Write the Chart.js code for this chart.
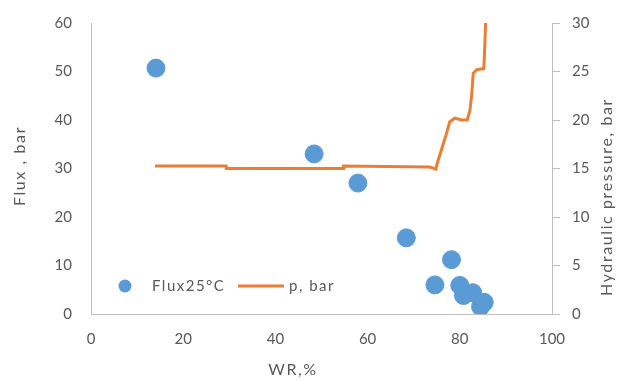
<!DOCTYPE html>
<html>
<head>
<meta charset="utf-8">
<script src="https://cdn.jsdelivr.net/npm/chart.js@4"></script>
<style>
    html, body { margin: 0; padding: 0; background: #fff; }
    #wrap { width: 617px; height: 381px; }
</style>
</head>
<body>
<div id="wrap"><canvas id="chart" width="617" height="381"></canvas></div>
<script>
// flux measurements (left axis)
const fluxWR = [14.1, 48.4, 57.9, 68.4, 74.6, 78.2, 80.0, 80.8, 82.8, 84.5, 85.3];
const fluxValues = [50.7, 33.0, 27.0, 15.7, 6.0, 11.2, 5.9, 3.8, 4.4, 1.5, 2.4];

// hydraulic pressure curve (right axis)
const pressWR = [13.9, 29.3, 29.4, 54.7, 54.8, 73.5, 74.8, 75.2, 76.0, 77.1, 77.8, 78.9, 80.4, 81.6, 82.2, 82.6, 82.9, 83.7, 85.2, 85.4, 85.6];
const pressValues = [15.25, 15.25, 15.0, 15.0, 15.25, 15.15, 14.95, 15.7, 16.9, 18.6, 19.8, 20.2, 20.0, 20.0, 21.0, 22.7, 24.8, 25.2, 25.3, 27.4, 30.0];

const xTicks = [0, 20, 40, 60, 80, 100];

const blue = '#5b9bd5';
const orange = '#ed7d31';
const grey = '#595959';
const axisGrey = '#bfbfbf';
const fontFamily = 'Lato, "Open Sans", sans-serif';

// legend inside the plot + the three axis titles (drawn by hand for letter spacing)
const textPlugin = {
    id: 'textBits',
    afterDraw(chart) {
        const ctx = chart.ctx;
        const y = 286;
        ctx.save();
        ctx.fillStyle = blue;
        ctx.beginPath();
        ctx.arc(125, y, 6.5, 0, Math.PI * 2);
        ctx.fill();

        ctx.font = '15px ' + fontFamily;
        ctx.letterSpacing = '1.5px';
        ctx.fillStyle = grey;
        ctx.textBaseline = 'middle';
        ctx.textAlign = 'left';
        ctx.fillText('Flux25°C', 152, y);

        ctx.strokeStyle = orange;
        ctx.lineWidth = 3;
        ctx.beginPath();
        ctx.moveTo(238, y);
        ctx.lineTo(284, y);
        ctx.stroke();

        ctx.fillText('p, bar', 289, y);

        ctx.font = '16px ' + fontFamily;
        ctx.letterSpacing = '1.6px';
        ctx.textAlign = 'center';
        ctx.fillText('WR,%', 293, 370);

        ctx.save();
        ctx.translate(20, 166);
        ctx.rotate(-Math.PI / 2);
        ctx.fillText('Flux , bar', 0, 0);
        ctx.restore();

        ctx.translate(607, 197);
        ctx.rotate(-Math.PI / 2);
        ctx.fillText('Hydraulic pressure, bar', 0, 0);
        ctx.restore();
    }
};

// tick padding also pads the top of vertical axes, drop that
function fixVertical(width) {
    return scale => {
        scale.width = width;
        scale.paddingTop = 0;
        scale.paddingBottom = 0;
    };
}

new Chart(document.getElementById('chart'), {
    type: 'scatter',
    data: {
        datasets: [{
            label: 'Flux25°C',
            data: fluxWR.map((x, i) => ({ x: x, y: fluxValues[i] })),
            backgroundColor: blue,
            borderColor: blue,
            pointRadius: 9,
            yAxisID: 'y'
        }, {
            label: 'p, bar',
            type: 'line',
            data: pressWR.map((x, i) => ({ x: x, y: pressValues[i] })),
            borderColor: orange,
            borderWidth: 3,
            pointRadius: 0,
            tension: 0,
            fill: false,
            yAxisID: 'y1'
        }]
    },
    options: {
        responsive: false,
        animation: false,
        layout: { autoPadding: false, padding: { top: 23, right: 0, left: 0, bottom: 0 } },
        plugins: {
            legend: { display: false },
            tooltip: { enabled: false }
        },
        scales: {
            x: {
                type: 'linear',
                min: 0,
                max: 100,
                afterBuildTicks: axis => { axis.ticks = xTicks.map(v => ({ value: v })); },
                grid: { display: false, drawTicks: false },
                border: { display: true, color: axisGrey, width: 1 },
                ticks: { color: grey, font: { family: fontFamily, size: 15 }, padding: 16 },
                title: { display: false },
                afterFit: scale => { scale.height = 67; }
            },
            y: {
                position: 'left',
                min: 0,
                max: 60,
                ticks: { stepSize: 10, color: grey, font: { family: fontFamily, size: 15 }, padding: 19 },
                grid: { display: false, drawTicks: false },
                border: { display: true, color: axisGrey, width: 1 },
                title: { display: false },
                afterFit: fixVertical(91)
            },
            y1: {
                position: 'right',
                min: 0,
                max: 30,
                ticks: { stepSize: 5, color: grey, font: { family: fontFamily, size: 15 }, padding: 12 },
                grid: { display: true, drawOnChartArea: false, drawTicks: true, tickLength: 8, color: axisGrey },
                border: { display: true, color: axisGrey, width: 1 },
                title: { display: false },
                afterFit: fixVertical(65)
            }
        }
    },
    plugins: [textPlugin]
});
</script>
</body>
</html>
